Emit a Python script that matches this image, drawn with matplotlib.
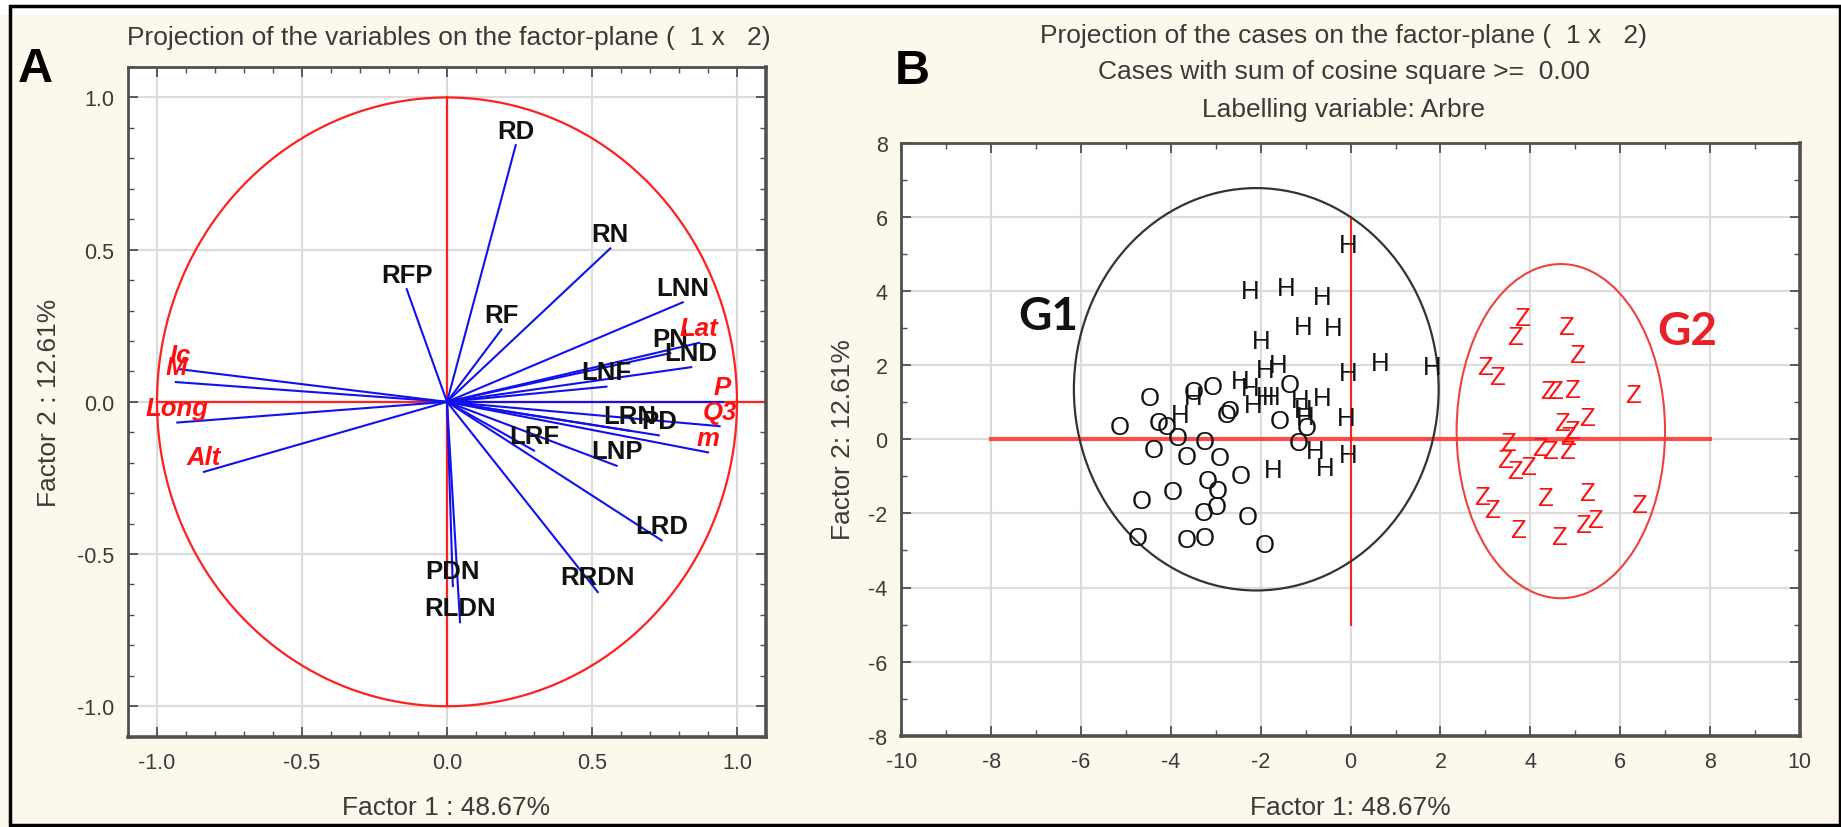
import matplotlib
matplotlib.use("Agg")
import matplotlib.pyplot as plt
import numpy as np
from matplotlib import font_manager
from matplotlib.patches import Ellipse, Rectangle
from matplotlib.ticker import MultipleLocator

plt.rcParams['axes.unicode_minus'] = False


def pick(fams, default):
    for f in fams:
        try:
            font_manager.findfont(font_manager.FontProperties(family=f), fallback_to_default=False)
            return f
        except Exception:
            pass
    return default


SANS = pick(['Liberation Sans', 'Arial'], 'DejaVu Sans')
NARROW = pick(['Liberation Sans Narrow', 'Arial Narrow'], None)
GFONT = pick(['Lato', 'Open Sans', 'Liberation Sans'], 'DejaVu Sans')
plt.rcParams['font.family'] = [SANS, 'DejaVu Sans']

# ---------------- data: panel A (variable loadings) ----------------
active_names = ['RD', 'RN', 'RFP', 'RF', 'LNN', 'PN', 'LND', 'LNF', 'LRN', 'PD',
                'LRF', 'LNP', 'LRD', 'RRDN', 'PDN', 'RLDN']
active_f1 = [0.237, 0.563, -0.139, 0.188, 0.813, 0.77, 0.842, 0.55, 0.63, 0.73,
             0.30, 0.585, 0.74, 0.52, 0.02, 0.045]
active_f2 = [0.843, 0.504, 0.37, 0.238, 0.327, 0.16, 0.114, 0.05, -0.095, -0.11,
             -0.16, -0.21, -0.455, -0.625, -0.605, -0.724]
supp_names = ['Ic', 'M', 'Long', 'Alt', 'Lat', 'P', 'Q3', 'm']
supp_f1 = [-0.92, -0.935, -0.93, -0.838, 0.87, 0.95, 0.94, 0.90]
supp_f2 = [0.107, 0.065, -0.068, -0.23, 0.194, 0.0, -0.08, -0.166]

# ---------------- data: panel B (case scores) ----------------
H_x = [-0.05, -2.24, -1.44, -0.64, -1.05, -0.39, -2.0, 0.65, 1.81, -0.05, -1.61, -1.91,
       -2.46, -2.24, -1.91, -1.76, -2.17, -1.13, -0.64, -1.05, -1.02, -0.09, -3.5, -3.8,
       -0.79, -0.57, -0.05, -1.72]
H_y = [5.32, 4.06, 4.16, 3.92, 3.11, 3.07, 2.71, 2.12, 2.03, 1.85, 2.08, 1.94,
       1.63, 1.45, 1.22, 1.22, 1.0, 1.13, 1.18, 0.86, 0.68, 0.64, 1.22, 0.73,
       -0.26, -0.71, -0.35, -0.76]
O_x = [-4.47, -5.14, -4.28, -4.1, -3.84, -3.24, -3.5, -3.06, -2.76, -2.69, -1.57, -1.35,
       -0.98, -1.16, -4.39, -3.65, -2.92, -2.45, -3.17, -2.95, -3.97, -4.65, -2.98, -3.28,
       -2.28, -4.73, -3.65, -3.24, -1.91]
O_y = [1.18, 0.39, 0.5, 0.39, 0.1, -0.01, 1.34, 1.49, 0.73, 0.82, 0.55, 1.54,
       0.37, -0.04, -0.22, -0.4, -0.44, -0.91, -1.07, -1.34, -1.36, -1.61, -1.77, -1.93,
       -2.02, -2.6, -2.65, -2.6, -2.78]
Z_x = [3.81, 3.66, 4.8, 5.04, 2.99, 3.25, 4.4, 4.55, 4.92, 6.28, 4.7, 5.26, 4.92, 4.85,
       3.51, 3.44, 4.22, 4.43, 4.81, 3.66, 3.96, 2.92, 3.14, 4.33, 5.26, 6.41, 3.73, 4.63,
       5.18, 5.44]
Z_y = [3.34, 2.84, 3.11, 2.35, 2.03, 1.74, 1.36, 1.36, 1.4, 1.25, 0.5, 0.64, 0.28, 0.14,
       -0.04, -0.49, -0.17, -0.26, -0.26, -0.8, -0.67, -1.48, -1.84, -1.52, -1.39, -1.7,
       -2.38, -2.56, -2.24, -2.11]

W, Hh = 1841, 828
BG = '#FDF8EC'
TXT = '#3a3a3a'
SPINE = '#505050'
GRID = '#DCDCDC'

fig = plt.figure(figsize=(W / 100, Hh / 100), dpi=100, facecolor=BG)


def fx(px):
    return px / W


def fy(py):
    return 1 - py / Hh


# frame
fig.patches.append(Rectangle((fx(0), fy(16)), 1, 16 / Hh, transform=fig.transFigure,
                             fc='white', ec='none', zorder=0))
fig.patches.append(Rectangle((fx(10), fy(826)), fx(1830), (826 - 7) / Hh,
                             transform=fig.transFigure, fill=False, ec='black', lw=2.5,
                             zorder=5))


def style_axes(ax, major, minor):
    ax.set_facecolor('white')
    ax.xaxis.set_major_locator(MultipleLocator(major))
    ax.yaxis.set_major_locator(MultipleLocator(major))
    ax.xaxis.set_minor_locator(MultipleLocator(minor))
    ax.yaxis.set_minor_locator(MultipleLocator(minor))
    ax.grid(True, which='major', color=GRID, lw=1.6, zorder=0)
    ax.set_axisbelow(True)
    ax.tick_params(which='both', direction='in', top=True, right=True, colors=SPINE,
                   labelcolor=TXT, labelsize=15.5)
    ax.tick_params(which='major', length=7, width=1.3)
    ax.tick_params(which='minor', length=4, width=1.0)
    ax.tick_params(axis='y', pad=10)
    ax.tick_params(axis='x', pad=11)
    for s in ax.spines.values():
        s.set_color(SPINE)
        s.set_linewidth(2)
    ax.spines['bottom'].set_linewidth(2.6)
    ax.spines['right'].set_linewidth(2.6)


# ---------------- panel A ----------------
axA = fig.add_axes([fx(128), fy(737.7), (766 - 128) / W, (737.7 - 68) / Hh])
axA.set_xlim(-1.1, 1.1)
axA.set_ylim(-1.1, 1.1)
style_axes(axA, 0.5, 0.1)
axA.xaxis.set_major_formatter(matplotlib.ticker.FormatStrFormatter('%.1f'))
axA.yaxis.set_major_formatter(matplotlib.ticker.FormatStrFormatter('%.1f'))

t = np.linspace(0, 2 * np.pi, 400)
axA.plot(np.cos(t), np.sin(t), color='#FF2020', lw=1.6, zorder=2)
axA.plot([-1, 1.1], [0, 0], color='#FF2020', lw=1.6, zorder=2)
axA.plot([0, 0], [-1, 1], color='#FF2020', lw=1.6, zorder=2)

for n, x, y in zip(active_names, active_f1, active_f2):
    axA.plot([0, x], [0, y], color='#1010F0', lw=1.5, zorder=3)
for n, x, y in zip(supp_names, supp_f1, supp_f2):
    axA.plot([0, x], [0, y], color='#1010F0', lw=1.5, zorder=3)
for n, x, y in zip(active_names, active_f1, active_f2):
    axA.annotate(n, (x, y), xytext=(0, 5.5), textcoords='offset points', ha='center',
                 va='baseline', fontsize=18.5, fontweight='bold', color='#111111', zorder=4)
for n, x, y in zip(supp_names, supp_f1, supp_f2):
    axA.annotate(n, (x, y), xytext=(0, 5.5), textcoords='offset points', ha='center',
                 va='baseline', fontsize=18.5, fontweight='bold', fontstyle='italic',
                 color='#FF1010', zorder=4)

fig.text(fx(449), fy(37.6), 'Projection of the variables on the factor-plane (  1 x   2)',
         ha='center', va='center', fontsize=19, color=TXT)
fig.text(fx(446), fy(808), 'Factor 1 : 48.67%', ha='center', va='center', fontsize=19,
         color=TXT)
fig.text(fx(49), fy(403), 'Factor 2 : 12.61%', ha='center', va='center', fontsize=19,
         color=TXT, rotation=90)
fig.text(fx(35), fy(70), 'A', ha='center', va='center', fontsize=35, fontweight='bold',
         color='black')

# ---------------- panel B ----------------
axB = fig.add_axes([fx(901.4), fy(736.7), (1799.8 - 901.4) / W, (736.7 - 143.9) / Hh])
axB.set_xlim(-10, 10)
axB.set_ylim(-8, 8)
style_axes(axB, 2, 1)

axB.plot([-8, 8], [0, 0], color='#FF3030', lw=3, alpha=0.85, zorder=2)
axB.plot([0, 0], [-5, 6], color='#FF2020', lw=1.5, zorder=2)
axB.add_patch(Ellipse((-2.1, 1.35), 2 * 4.06, 2 * 5.43, fill=False, ec='#333333',
                      lw=1.6, zorder=2))
axB.add_patch(Ellipse((4.68, 0.22), 2 * 2.32, 2 * 4.51, fill=False, ec='#F04040',
                      lw=1.5, zorder=2))

if NARROW:
    mfam, msize = [NARROW, SANS], 21
else:
    mfam, msize = [SANS], 18.5
for xs, ys, lab, col in ((O_x, O_y, 'O', '#111111'), (H_x, H_y, 'H', '#111111'),
                         (Z_x, Z_y, 'Z', '#FF1010')):
    for x, y in zip(xs, ys):
        axB.text(x, y, lab, ha='center', va='center_baseline', fontsize=msize,
                 family=mfam, color=col, zorder=4)

axB.text(-6.73, 3.33, 'G1', ha='center', va='center', fontsize=33, fontweight='bold',
         family=[GFONT], color='#111111', zorder=4)
axB.text(7.49, 2.91, 'G2', ha='center', va='center', fontsize=33, fontweight='bold',
         family=[GFONT], color='#E8202A', zorder=4)

fig.text(fx(1344), fy(36), 'Projection of the cases on the factor-plane (  1 x   2)',
         ha='center', va='center', fontsize=19, color=TXT)
fig.text(fx(1344), fy(72), 'Cases with sum of cosine square >=  0.00',
         ha='center', va='center', fontsize=19, color=TXT)
fig.text(fx(1344), fy(110), 'Labelling variable: Arbre',
         ha='center', va='center', fontsize=19, color=TXT)
fig.text(fx(1350), fy(808), 'Factor 1: 48.67%', ha='center', va='center', fontsize=19,
         color=TXT)
fig.text(fx(843), fy(440), 'Factor 2: 12.61%', ha='center', va='center', fontsize=19,
         color=TXT, rotation=90)
fig.text(fx(912), fy(71), 'B', ha='center', va='center', fontsize=35, fontweight='bold',
         color='black')

fig.savefig('out.png', dpi=100, facecolor=BG)
